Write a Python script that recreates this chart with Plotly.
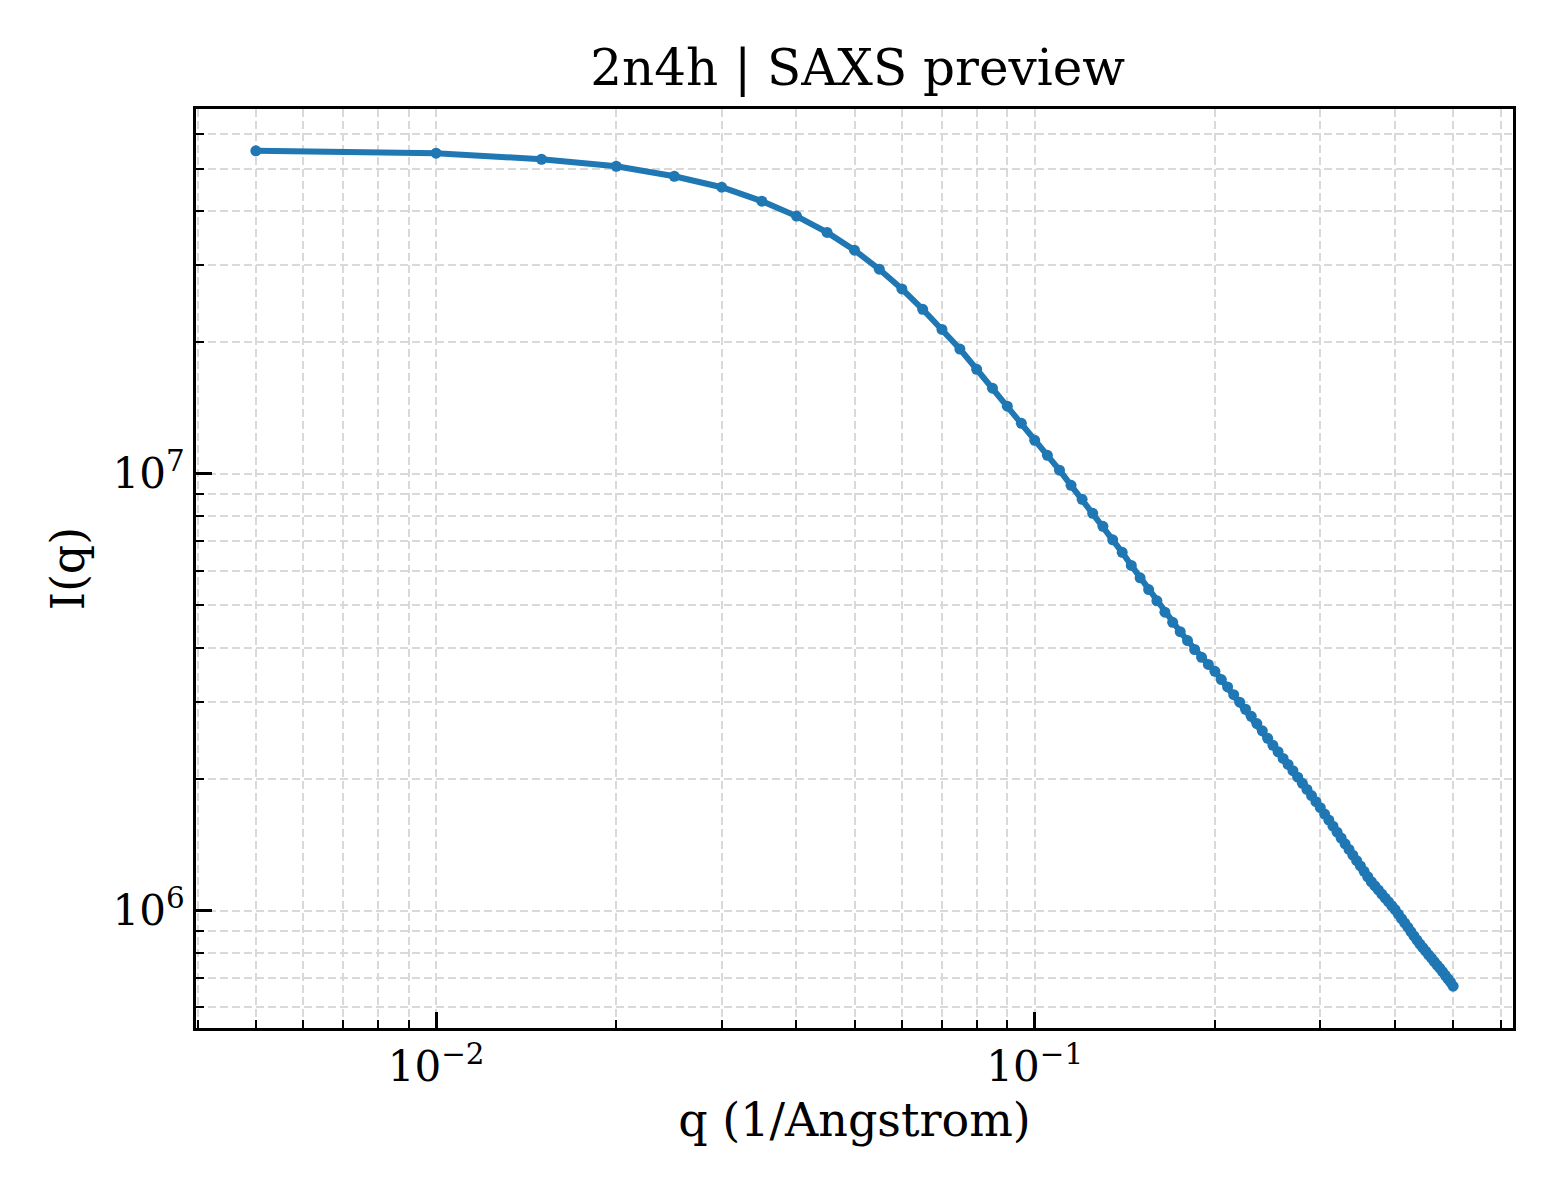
import numpy as np
import plotly.graph_objects as go

TITLE = "2n4h | SAXS preview"
X_LABEL = "q (1/Angstrom)"
Y_LABEL = "I(q)"

q = [0.005, 0.010, 0.015, 0.020, 0.025, 0.030, 0.035, 0.040, 0.045, 0.050,
     0.055, 0.060, 0.065, 0.070, 0.075, 0.080, 0.085, 0.090, 0.095, 0.100,
     0.105, 0.110, 0.115, 0.120, 0.125, 0.130, 0.135, 0.140, 0.145, 0.150,
     0.155, 0.160, 0.165, 0.170, 0.175, 0.180, 0.185, 0.190, 0.195, 0.200,
     0.205, 0.210, 0.215, 0.220, 0.225, 0.230, 0.235, 0.240, 0.245, 0.250,
     0.255, 0.260, 0.265, 0.270, 0.275, 0.280, 0.285, 0.290, 0.295, 0.300,
     0.305, 0.310, 0.315, 0.320, 0.325, 0.330, 0.335, 0.340, 0.345, 0.350,
     0.355, 0.360, 0.365, 0.370, 0.375, 0.380, 0.385, 0.390, 0.395, 0.400,
     0.405, 0.410, 0.415, 0.420, 0.425, 0.430, 0.435, 0.440, 0.445, 0.450,
     0.455, 0.460, 0.465, 0.470, 0.475, 0.480, 0.485, 0.490, 0.495, 0.500]

intensity = [5.49e7, 5.42e7, 5.25e7, 5.06e7, 4.80e7, 4.53e7, 4.21e7, 3.89e7, 3.57e7, 3.25e7,
             2.94e7, 2.65e7, 2.38e7, 2.14e7, 1.93e7, 1.735e7, 1.57e7, 1.428e7, 1.305e7, 1.193e7,
             1.102e7, 1.019e7, 9.41e6, 8.74e6, 8.12e6, 7.58e6, 7.06e6, 6.61e6, 6.17e6, 5.78e6,
             5.43e6, 5.12e6, 4.82e6, 4.57e6, 4.35e6, 4.15e6, 3.96e6, 3.80e6, 3.66e6, 3.53e6,
             3.38e6, 3.25e6, 3.12e6, 3.00e6, 2.89e6, 2.785e6, 2.68e6, 2.58e6, 2.48e6, 2.39e6,
             2.31e6, 2.23e6, 2.16e6, 2.09e6, 2.02e6, 1.956e6, 1.894e6, 1.833e6, 1.775e6, 1.720e6,
             1.663e6, 1.611e6, 1.560e6, 1.512e6, 1.466e6, 1.422e6, 1.380e6, 1.339e6, 1.301e6, 1.265e6,
             1.230e6, 1.195e6, 1.164e6, 1.139e6, 1.115e6, 1.091e6, 1.068e6, 1.047e6, 1.025e6, 1.005e6,
             9.81e5, 9.58e5, 9.37e5, 9.16e5, 8.95e5, 8.75e5, 8.56e5, 8.38e5, 8.22e5, 8.07e5,
             7.92e5, 7.78e5, 7.64e5, 7.50e5, 7.38e5, 7.25e5, 7.11e5, 6.98e5, 6.86e5, 6.71e5]

x_major = [0.01, 0.1]
x_major_text = ["10<sup>\u22122</sup>", "10<sup>\u22121</sup>"]
y_major = [1e6, 1e7]
y_major_text = ["10<sup>6</sup>", "10<sup>7</sup>"]

### ---------------------------------------------------------------------------------------------------------------------

def log_range(values, pad=0.05):
    # matplotlib style 5% margin in log space
    lo, hi = np.log10(min(values)), np.log10(max(values))
    span = hi - lo
    return [lo - pad * span, hi + pad * span]


def minor_vals(decades):
    return [m * 10.0 ** d for d in decades for m in range(2, 10)]


FONT = "DejaVu Serif"
GRID = "#d9d9d9"
DASH = "8px,4px"

fig = go.Figure()
fig.add_trace(go.Scatter(x=q, y=intensity, mode="lines+markers",
                         line=dict(color="#1f77b4", width=6),
                         marker=dict(color="#1f77b4", size=11),
                         showlegend=False))

axis_common = dict(type="log", tickmode="array", ticks="inside", ticklen=16, tickwidth=2.5,
                   tickcolor="black", showline=True, linewidth=3, linecolor="black", mirror=True,
                   showgrid=True, gridcolor=GRID, gridwidth=1.5, griddash=DASH, zeroline=False,
                   tickfont=dict(family=FONT, size=42, color="black"))

minor_common = dict(ticks="inside", ticklen=8, tickwidth=2, tickcolor="black",
                    showgrid=True, gridcolor=GRID, gridwidth=1.5, griddash=DASH)

fig.update_xaxes(range=log_range(q), tickvals=x_major, ticktext=x_major_text,
                 minor=dict(tickvals=minor_vals([-3, -2, -1]), **minor_common),
                 title=dict(text=X_LABEL, font=dict(family=FONT, size=46, color="black"), standoff=14),
                 **axis_common)
fig.update_yaxes(range=log_range(intensity), tickvals=y_major, ticktext=y_major_text,
                 minor=dict(tickvals=minor_vals([5, 6, 7]), **minor_common),
                 title=dict(text=Y_LABEL, font=dict(family=FONT, size=46, color="black"), standoff=14),
                 **axis_common)

# page body keeps an 8px margin, so the figure is 8px smaller and the margins shifted
fig.update_layout(width=1552, height=1192,
                  margin=dict(l=188, r=47, t=101, b=172),
                  paper_bgcolor="white", plot_bgcolor="white",
                  title=dict(text=TITLE, x=0.5475, xanchor="center", y=0.95, yanchor="middle",
                             font=dict(family=FONT, size=50, color="black")))

fig.write_html("out.html")
